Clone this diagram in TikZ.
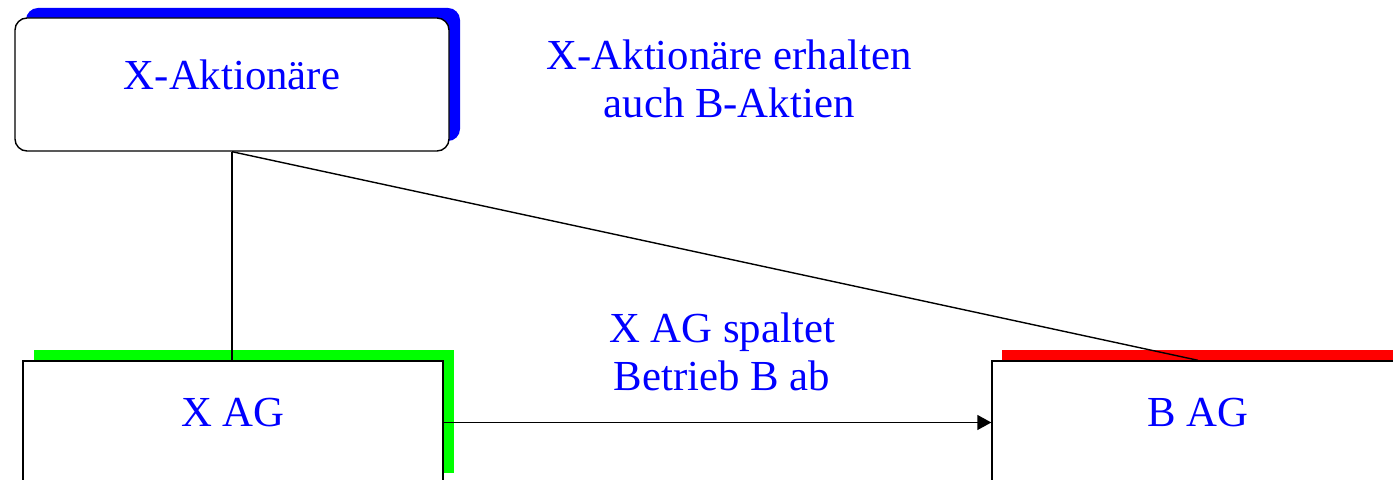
\documentclass[tikz,border=0pt]{standalone}
\usepackage{fontspec}
\setmainfont{Liberation Serif}
\usetikzlibrary{arrows.meta,shadows}
\definecolor{pblue}{RGB}{0,0,255}
\definecolor{pgreen}{RGB}{0,255,0}
\definecolor{pred}{RGB}{255,0,0}
\tikzset{
  lbl/.style={text=pblue,font=\fontsize{21.4pt}{24pt}\selectfont,align=center,inner sep=0pt},
  boxbase/.style={draw=black,fill=white,line width=0.7pt,inner sep=0pt},
  conn/.style={draw=black,line width=0.7pt},
}
\begin{document}
\begin{tikzpicture}[x=0.5pt,y=-0.5pt]
\useasboundingbox (0,0) rectangle (1393,480);
\clip (0,0) rectangle (1393,480);
% X-Aktionaere box
\node[boxbase,rounded corners=6pt,minimum width=217pt,minimum height=66.5pt,
  general shadow={fill=pblue,shadow xshift=5.5pt,shadow yshift=5pt}] (xa) at (232,84.5) {};
\node[lbl] (xat) at (232,75) {X-Aktionäre};
% X AG box
\node[boxbase,minimum width=210pt,minimum height=61.5pt,
  general shadow={fill=pgreen,shadow xshift=5.5pt,shadow yshift=5.5pt}] (xag) at (233,422.5) {};
\node[lbl] (xagt) at (233,413) {X AG};
% B AG box
\node[boxbase,minimum width=206pt,minimum height=61.5pt,
  general shadow={fill=pred,shadow xshift=5pt,shadow yshift=5.5pt}] (bag) at (1198,422.5) {};
\node[lbl] (bagt) at (1198,413) {B AG};
% texts
\node[lbl] (t1) at (729,79) {X-Aktionäre erhalten\\auch B-Aktien};
\node[lbl] (t2) at (722,352) {X AG spaltet\\Betrieb B ab};
% connectors
\draw[conn] (xa.south) -- (xa.south |- xag.north);
\draw[conn] (xa.south) -- (bag.north);
\draw[conn,-{Triangle[length=7pt,width=7.5pt]}] (xag.east) -- (bag.west);
\end{tikzpicture}
\end{document}
